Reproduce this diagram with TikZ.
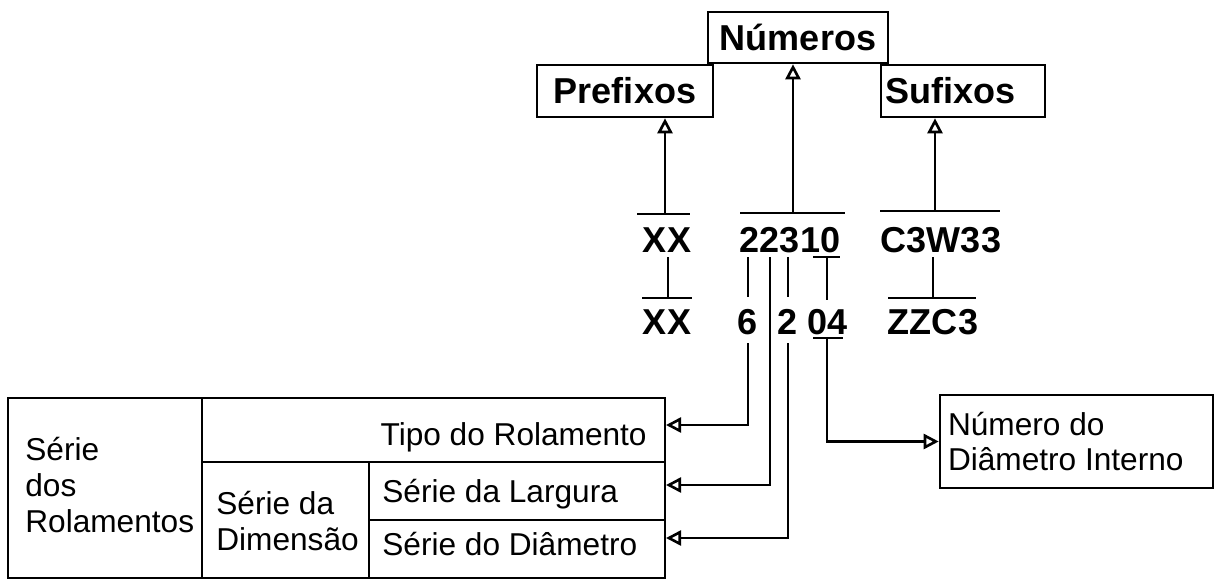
\documentclass[tikz,border=0pt]{standalone}
\usepackage{fontspec}
\setmainfont{Liberation Sans}
\usetikzlibrary{arrows.meta,calc}

\tikzset{
  pxgrid/.style={x=0.02cm,y=-0.02cm},
  boxed/.style={draw,line width=1.5pt,inner sep=0pt,font=\fontsize{20.5}{24}\selectfont\bfseries},
  code/.style={inner sep=0pt,font=\fontsize{20.5}{24}\selectfont\bfseries},
  cell/.style={inner sep=0pt,anchor=base west,align=left,font=\fontsize{18}{20.4}\selectfont},
  link/.style={line width=1.5pt},
  opentip/.style={line width=1.5pt,-{Triangle[open,length=0.3cm,width=0.3cm]}},
}

\begin{document}
\begin{tikzpicture}[pxgrid]
  %%%%% START %%%%%
  \useasboundingbox (0,0) rectangle (1215,579);

  \node[boxed,minimum width=3.6cm,minimum height=1.02cm] (numeros) at (798,37.5) {Números};
  \node[boxed,minimum width=3.52cm,minimum height=1.04cm] (prefixos) at (625,91) {Prefixos};
  \node[boxed,minimum width=3.28cm,minimum height=1.04cm,inner xsep=0.08cm,text width=3.12cm,align=flush left] (sufixos) at (963,91) {Sufixos};

  \node[code] (xxa) at (667,240) {XX};
  \node[code] (numa) at (790,240) {22310};
  \node[code] (sufa) at (941,240) {C3W33};
  \node[code] (xxb) at (667,322) {XX};
  \node[code] (dsix) at (748,322) {6};
  \node[code] (dtwo) at (788,322) {2};
  \node[code] (dfour) at (828,322) {04};
  \node[code] (sufb) at (933,322) {ZZC3};

  \node[draw,line width=1.5pt,minimum width=5.46cm,minimum height=1.86cm,inner xsep=0.16cm,text width=5.14cm,align=flush left,font=\fontsize{18}{19.8}\selectfont] (interno) at (1076.5,441.5) {Número do\\Diâmetro Interno};

  % bars over and under the codes
  \draw[link] (637,214) -- (690,214);
  \draw[link] (740,213) -- (845,213);
  \draw[link] (880,211) -- (1000,211);
  \draw[link] (642,298) -- (692,298);
  \draw[link] (888,298) -- (976,298);
  \draw[link] (813,338) -- (843,338);
  \draw[link] (813,257) -- (840,257);

  \coordinate (barxx) at (665,214);
  \coordinate (barnum) at (793,213);
  \coordinate (barsuf) at (935,211);
  \draw[opentip] (barxx) -- (barxx |- prefixos.south);
  \draw[opentip] (barnum) -- (barnum |- numeros.south);
  \draw[opentip] (barsuf) -- (barsuf |- sufixos.south);

  \draw[link] (668,257) -- (668,298);
  \draw[link] (933,257) -- (933,298);
  \draw[link] (748,257) -- (748,297);
  \draw[link] (788,257) -- (788,297);
  \draw[link] (827,257) -- (827,300);

  % the table
  \draw[link] (8,398) rectangle (665,578);
  \draw[link] (202,398) -- (202,578);
  \draw[link] (202,462) -- (665,462);
  \draw[link] (369,462) -- (369,578);
  \draw[link] (369,520) -- (665,520);

  \node[cell] (serie) at (25,532) {Série\\dos\\Rolamentos};
  \node[cell] (dimensao) at (216,550) {Série da\\Dimensão};
  \node[cell,anchor=base east] (tipo) at (647,445) {Tipo do Rolamento};
  \node[cell] (largura) at (382,502) {Série da Largura};
  \node[cell] (diametro) at (382,555) {Série do Diâmetro};

  \coordinate (intipo) at (666,425);
  \coordinate (inlargura) at (666,485);
  \coordinate (indiametro) at (666,538);
  \draw[opentip] (748,343) |- (intipo);
  \draw[opentip] (770,257) |- (inlargura);
  \draw[opentip] (788,343) |- (indiametro);
  \draw[opentip] (827,338) |- (interno.west);

  %%%%% END %%%%%
\end{tikzpicture}
\end{document}
